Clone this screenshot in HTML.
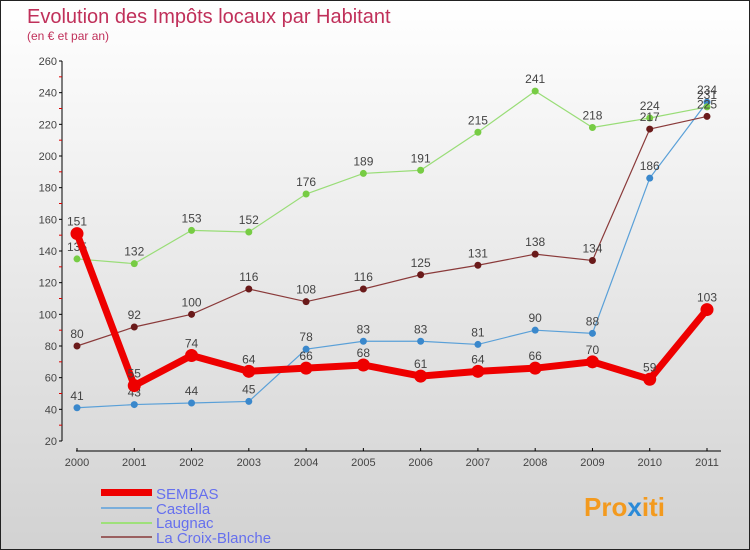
<!DOCTYPE html>
<html><head><meta charset="utf-8"><style>
body{margin:0}
#c{width:748px;height:548px;border:1px solid #222;background:linear-gradient(#fff,#d2d2d2);position:relative;font-family:"Liberation Sans",sans-serif;overflow:hidden}
</style></head><body>
<div id="c">
<svg id="s" width="748" height="548" style="position:absolute;left:0;top:0">
<text x="26" y="22" font-size="20" fill="#c0305a">Evolution des Impôts locaux par Habitant</text>
<text x="26" y="39" font-size="12" fill="#c0305a">(en € et par an)</text>
<g id="axes"></g><g id="series"></g>
<g>
<rect x="100" y="488" width="51" height="7" fill="#e00"/>
<text x="155" y="498" font-size="15" fill="#6670ee">SEMBAS</text>
<rect x="100" y="506" width="51" height="2" fill="#7aaedb"/>
<text x="155" y="513" font-size="15" fill="#6670ee">Castella</text>
<rect x="100" y="521" width="51" height="2" fill="#9ee07a"/>
<text x="155" y="527" font-size="15" fill="#6670ee">Laugnac</text>
<rect x="100" y="535" width="51" height="2" fill="#9a6060"/>
<text x="155" y="542" font-size="15" fill="#6670ee">La Croix-Blanche</text>
</g>
<text x="583" y="515" font-size="26" font-weight="bold" fill="#f39a1e">Pro<tspan fill="#2a8ad8">x</tspan>iti</text>
</svg>
</div>
<script>
const years=["2000","2001","2002","2003","2004","2005","2006","2007","2008","2009","2010","2011"];
const yTicks=[20,40,60,80,100,120,140,160,180,200,220,240,260];
const sembas=[151,55,74,64,66,68,61,64,66,70,59,103];
const castella=[41,43,44,45,78,83,83,81,90,88,186,234];
const laugnac=[135,132,153,152,176,189,191,215,241,218,224,231];
const croix=[80,92,100,116,108,116,125,131,138,134,217,225];
const NS="http://www.w3.org/2000/svg";
const X=i=>76+i*(630/11);
const Y=v=>440-(v-20)*(380/240);
function mk(t,a,p){const e=document.createElementNS(NS,t);for(const k in a)e.setAttribute(k,a[k]);p.appendChild(e);return e;}
const ax=document.getElementById('axes');
const yl=mk('line',{x1:61,y1:Y(260),x2:61,y2:Y(20),stroke:'#000'},ax);


yTicks.forEach(v=>{
 mk('line',{x1:58,x2:61,y1:Y(v),y2:Y(v),stroke:'#000'},ax);
 if(v<260)mk('line',{x1:58,x2:61,y1:Y(v+10),y2:Y(v+10),stroke:'#d00'},ax);
 const t=mk('text',{x:56,y:Y(v)+4,'text-anchor':'end','font-size':11,fill:'#444'},ax);t.textContent=v;
 
 
});
const xl=mk('line',{x1:75,y1:450,x2:720,y2:450,stroke:'#000'},ax);


years.forEach((y,i)=>{
 mk('line',{x1:X(i),x2:X(i),y1:447,y2:450,stroke:'#000'},ax);
 const t=mk('text',{x:X(i),y:465,'text-anchor':'middle','font-size':11,fill:'#444'},ax);t.textContent=y;
 
 
});
const sg=document.getElementById('series');
function draw(data,color,dot,w,r,name){
 const g=mk('g',{},sg);
 
 
 mk('polyline',{points:data.map((v,i)=>X(i)+','+Y(v)).join(' '),fill:'none',stroke:color,'stroke-width':w},g);
 data.forEach((v,i)=>{
  const c=mk('circle',{cx:X(i),cy:Y(v),r:r,fill:dot},g);
  
  
  const t=mk('text',{x:X(i),y:Y(v)-8,'text-anchor':'middle','font-size':12,fill:'#444'},g);t.textContent=v;
  
  
 });
}
draw(castella,'#5aa0d8','#3a88cc',1.2,3.5,'castella');
draw(laugnac,'#99dd77','#77cc44',1.2,3.5,'laugnac');
draw(croix,'#8a3a3a','#6a1a1a',1.2,3.5,'la-croix-blanche');
draw(sembas,'#ee0000','#ee0000',7,6.5,'sembas');
</script>
</body></html>
